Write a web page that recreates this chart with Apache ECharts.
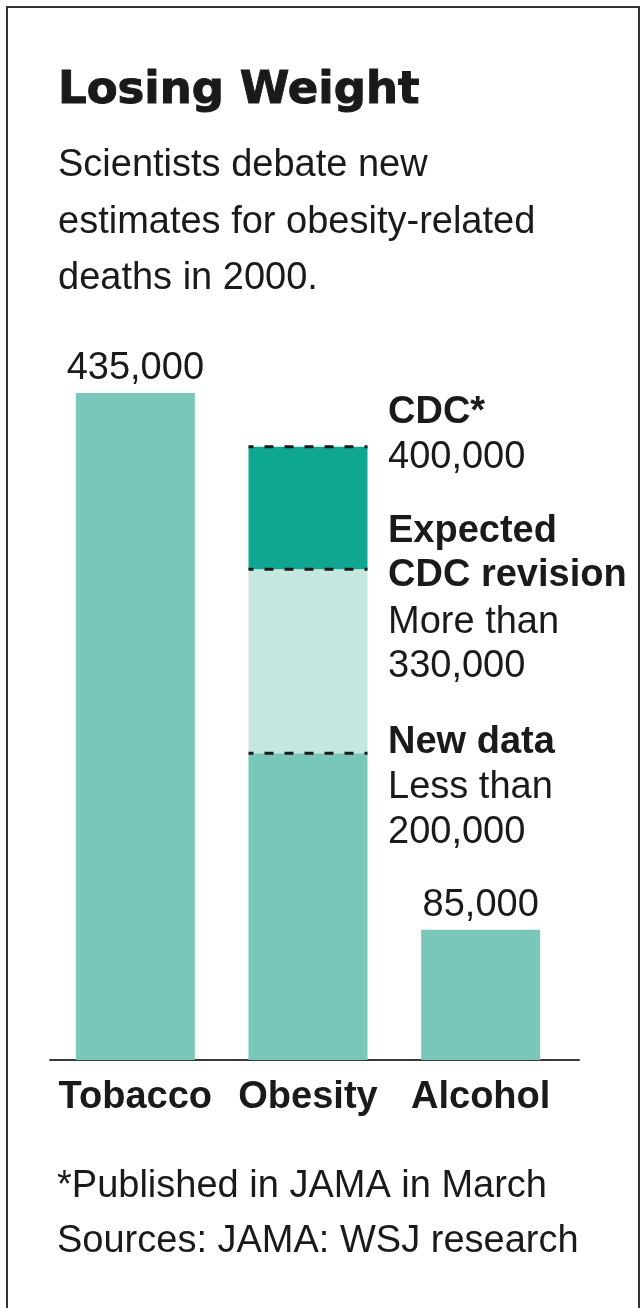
<!DOCTYPE html>
<html>
<head>
<meta charset="utf-8">
<script src="https://cdn.jsdelivr.net/npm/echarts@6/dist/echarts.min.js"></script>
<style>
  html, body { margin: 0; padding: 0; background: #ffffff; }
  #chart { width: 642px; height: 1308px; }
</style>
</head>
<body>
<div id="chart"></div>
<script>
// ---- data ----
const categories = ['Tobacco', 'Obesity', 'Alcohol'];
const deaths = [435000, 200000, 85000];          // base bar heights (Obesity: new data)
const obesityEstimates = [200000, 320000, 400000]; // dashed-line levels: new data, expected revision, CDC
const titleText = 'Losing Weight';
const subtitleLines = ['Scientists debate new', 'estimates for obesity-related', 'deaths in 2000.'];
const annotationLines = [
  { text: 'CDC*', bold: true },
  { text: '400,000', bold: false },
  { text: 'Expected', bold: true },
  { text: 'CDC revision', bold: true },
  { text: 'More than', bold: false },
  { text: '330,000', bold: false },
  { text: 'New data', bold: true },
  { text: 'Less than', bold: false },
  { text: '200,000', bold: false }
];
const footnoteLines = ['*Published in JAMA in March', 'Sources: JAMA: WSJ research'];

// ---- styling ----
const FONT = '"Liberation Sans", Arial, Helvetica, sans-serif';
const TXT = '#1a1a1a';
const BAR = '#79c7b8';
const LIGHT = '#c6e6e0';
const DARK = '#0fa791';
const BAR_W = 119;

const obesityIdx = 1;
const revisionSeg = categories.map((c, i) => i === obesityIdx ? obesityEstimates[1] - obesityEstimates[0] : '-');
const cdcSeg = categories.map((c, i) => i === obesityIdx ? obesityEstimates[2] - obesityEstimates[1] : '-');
const dashData = obesityEstimates.map(v => [obesityIdx, v]);

const annY = [413, 458, 532, 576, 623, 667, 743, 788, 833];
const graphics = [
  { type: 'rect', shape: { x: 7, y: 7, width: 632, height: 1400 }, style: { fill: 'none', stroke: '#333', lineWidth: 2 }, silent: true },
  { type: 'text', x: 58, y: 91, style: { text: titleText, font: 'bold 45px "DejaVu Sans", sans-serif', fill: TXT, stroke: TXT, lineWidth: 1, textVerticalAlign: 'middle' } }
];
subtitleLines.forEach((t, i) => graphics.push({ type: 'text', x: 58, y: 166 + i * 56.5, style: { text: t, font: '38px ' + FONT, fill: TXT, textVerticalAlign: 'middle' } }));
annotationLines.forEach((a, i) => graphics.push({ type: 'text', x: 388, y: annY[i], style: { text: a.text, font: (a.bold ? 'bold ' : '') + '38px ' + FONT, fill: TXT, textVerticalAlign: 'middle' } }));
footnoteLines.forEach((t, i) => graphics.push({ type: 'text', x: 57, y: 1187 + i * 55, style: { text: t, font: '38px ' + FONT, fill: TXT, textVerticalAlign: 'middle' } }));

const chart = echarts.init(document.getElementById('chart'), null, { renderer: 'canvas' });
chart.setOption({
  animation: false,
  backgroundColor: '#ffffff',
  grid: [
    { left: 49, width: 518, top: 370, bottom: 248 },
    { left: 50, right: 63, top: 370, bottom: 248 }
  ],
  xAxis: [
    {
      type: 'category', data: categories, gridIndex: 0,
      axisLine: { show: false }, axisTick: { show: false },
      axisLabel: { fontFamily: FONT, fontWeight: 'bold', fontSize: 38, color: TXT, margin: 19, interval: 0 }
    },
    {
      type: 'value', gridIndex: 1, min: 0, max: 1,
      axisLine: { show: true, onZero: false, lineStyle: { color: '#3a3a3a', width: 2 } },
      axisTick: { show: false }, axisLabel: { show: false }, splitLine: { show: false }
    }
  ],
  yAxis: [
    { type: 'value', gridIndex: 0, min: 0, max: 450000, show: false, splitLine: { show: false } },
    { type: 'value', gridIndex: 1, min: 0, max: 1, show: false, splitLine: { show: false } }
  ],
  series: [
    {
      type: 'bar', stack: 'a', data: deaths, barWidth: BAR_W, itemStyle: { color: BAR },
      label: {
        show: true, position: 'top', distance: 5,
        fontFamily: FONT, fontSize: 38, color: TXT,
        formatter: p => p.dataIndex === obesityIdx ? '' : p.value.toLocaleString('en-US')
      }
    },
    { type: 'bar', stack: 'a', data: revisionSeg, barWidth: BAR_W, itemStyle: { color: LIGHT } },
    { type: 'bar', stack: 'a', data: cdcSeg, barWidth: BAR_W, itemStyle: { color: DARK } },
    {
      type: 'custom', data: dashData, z: 10,
      renderItem: function (params, api) {
        const p = api.coord([api.value(0), api.value(1)]);
        return {
          type: 'line',
          shape: { x1: p[0] - BAR_W / 2, y1: p[1], x2: p[0] + BAR_W / 2, y2: p[1] },
          style: { stroke: '#1a1a1a', lineWidth: 3, lineDash: [9, 11], lineDashOffset: 4 }
        };
      }
    }
  ],
  graphic: graphics
});
</script>
</body>
</html>
